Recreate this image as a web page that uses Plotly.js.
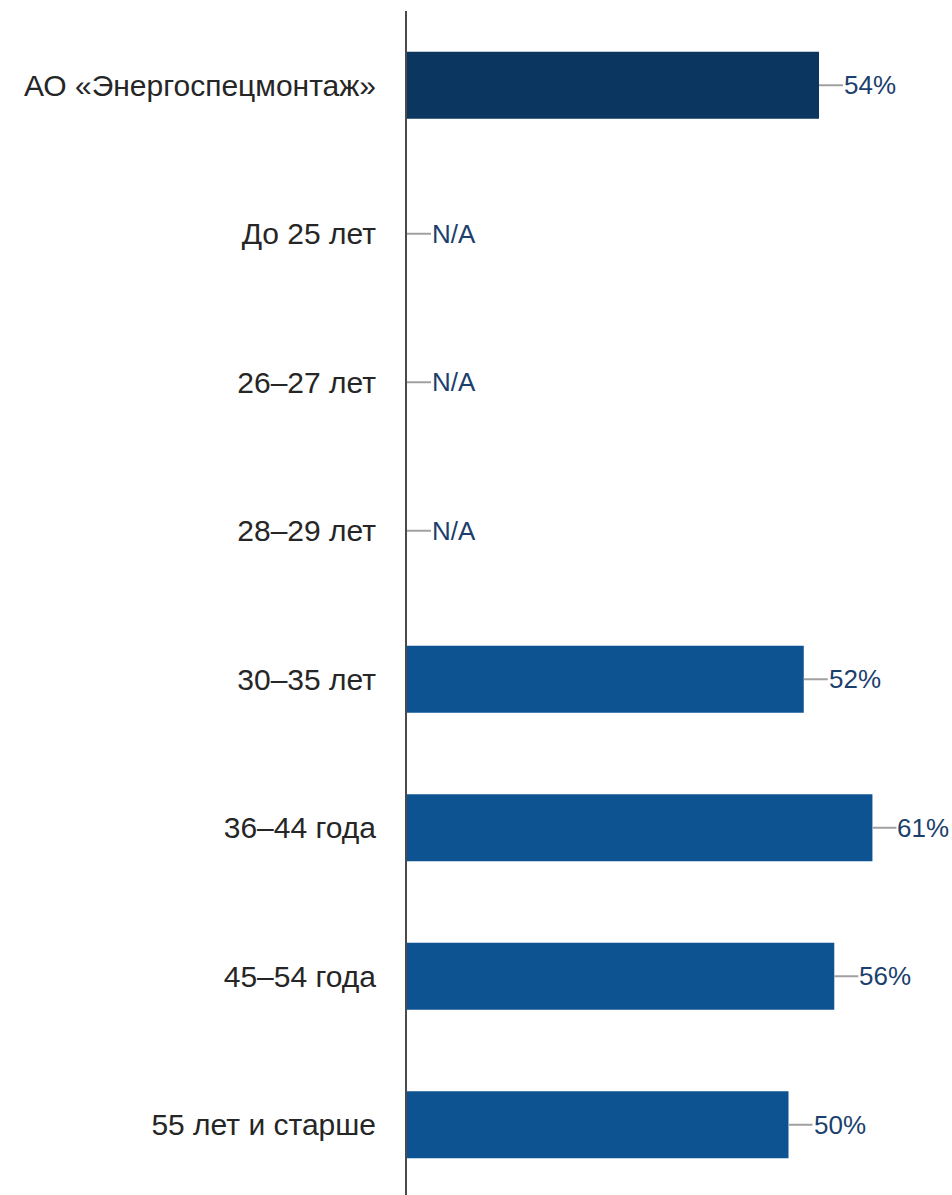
<!DOCTYPE html>
<html><head><meta charset="utf-8">
<script src="https://cdn.plot.ly/plotly-3.0.1.min.js"></script>
<style>html,body{margin:0;padding:0;background:#fff}#chart{width:952px;height:1195px}</style>
</head><body><div id="chart"></div>
<script>
const categories = ["АО «Энергоспецмонтаж»","До 25 лет","26–27 лет","28–29 лет","30–35 лет","36–44 года","45–54 года","55 лет и старше"];
const values = [54, null, null, null, 52, 61, 56, 50];
const labels = ["54%","N/A","N/A","N/A","52%","61%","56%","50%"];
const barColors = ["#0b365f","#0d5291","#0d5291","#0d5291","#0d5291","#0d5291","#0d5291","#0d5291"];

const pxPerUnit = 7.63;
const plotW = 952 - 407 - 6;
const xMax = plotW / pxPerUnit;
const leader = 24 / pxPerUnit;

const shapes = categories.map((c, i) => {
  const v = values[i] == null ? 0 : values[i];
  return {type:'line', xref:'x', yref:'y', x0:v, x1:v+leader, y0:c, y1:c,
          line:{color:'#a0a0a0', width:2}, layer:'above'};
});
const annotations = categories.map((c, i) => {
  const v = values[i] == null ? 0 : values[i];
  return {x:v, y:c, xref:'x', yref:'y', text:labels[i], showarrow:false,
          xanchor:'left', yanchor:'middle', xshift:23,
          font:{family:'Liberation Sans, Arial, sans-serif', size:26, color:'#1c3f6e'}};
});

Plotly.newPlot('chart', [{
  type:'bar', orientation:'h', y:categories, x:values.map(v => v == null ? 0 : v),
  marker:{color:barColors, line:{width:0}}, width:0.45, hoverinfo:'none'
}], {
  width:952, height:1195,
  margin:{l:407, r:6, t:11, b:0},
  paper_bgcolor:'#fff', plot_bgcolor:'#fff',
  showlegend:false,
  bargap:0.55,
  xaxis:{range:[0, xMax], visible:false, fixedrange:true},
  yaxis:{type:'category', range:[7.473, -0.5], showline:true, linecolor:'#4a4a4a', linewidth:2,
         showgrid:false, zeroline:false, ticks:'', ticklabelstandoff:23,
         tickfont:{family:'Liberation Sans, Arial, sans-serif', size:30, color:'#262626'}},
  shapes:shapes, annotations:annotations
}, {staticPlot:true});
</script></body></html>
